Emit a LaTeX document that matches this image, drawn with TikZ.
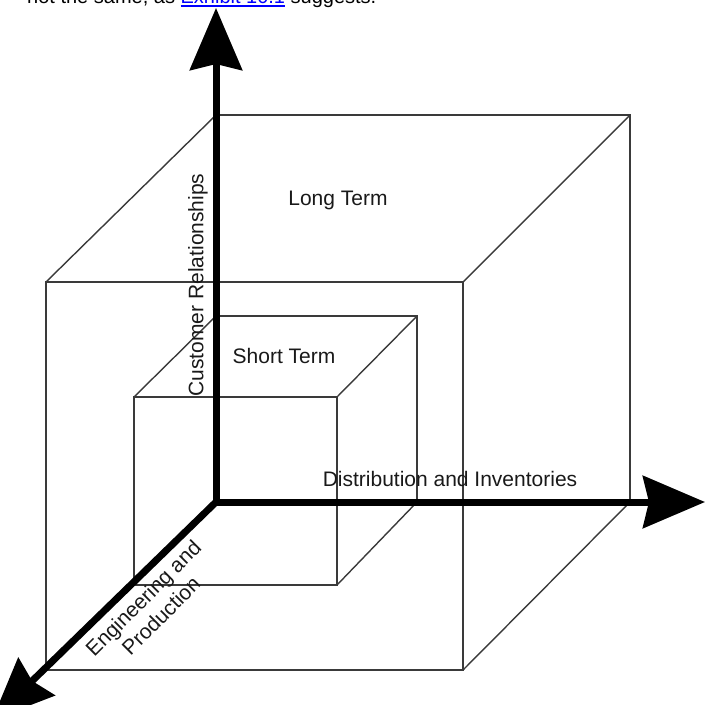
\documentclass[tikz,border=0pt]{standalone}
\usepackage{fontspec}
\setmainfont{Liberation Sans}
\usetikzlibrary{arrows.meta}
\definecolor{edgegray}{HTML}{3A3A3A}
\definecolor{linkblue}{HTML}{0000FF}
\newcommand\linkul[1]{\leavevmode\setbox0\hbox{#1}\textcolor{linkblue}{\rlap{\rule[-3.2pt]{\wd0}{2pt}}\box0}}
\begin{document}
\begin{tikzpicture}[x=1pt,y=-1pt,
  edge/.style={draw=edgegray,line width=1.4pt},
  axis/.style={line width=7pt,draw=black},
  bigtip/.style={-{Stealth[length=62pt,width=52pt,inset=6pt]}},
  lab/.style={font=\fontsize{21pt}{25pt}\selectfont,inner sep=0pt,text=black!90}]
\useasboundingbox (0,0) rectangle (706,704);
\clip (0,0) rectangle (706,704);
% top text line (cut off by the picture edge)
\node[anchor=base west,inner sep=0pt,font=\fontsize{20pt}{24pt}\selectfont] (toptext) at (27,3.8)
  {not the same, as \linkul{Exhibit 10.1} suggests.};
% coordinates
\coordinate (O) at (216,502);
\coordinate (B1) at (216,115);
\coordinate (B2) at (630,115);
\coordinate (B3) at (630,502);
\coordinate (F1) at (46,282);
\coordinate (F2) at (463,282);
\coordinate (F3) at (463,670);
\coordinate (F4) at (46,670);
\coordinate (b1) at (216,316);
\coordinate (b2) at (417,316);
\coordinate (b3) at (417,502);
\coordinate (f1) at (134,397);
\coordinate (f2) at (337,397);
\coordinate (f3) at (337,585);
\coordinate (f4) at (134,585);
\coordinate (ytip) at (216,8);
\coordinate (xtip) at (705,502);
\coordinate (ztip) at (-8,720);
% large cube
\draw[edge] (F1) -- (F2) -- (F3) -- (F4) -- cycle;
\draw[edge] (B1) -- (B2) -- (B3);
\draw[edge] (F1) -- (B1);
\draw[edge] (F2) -- (B2);
\draw[edge] (F3) -- (B3);
% small cube
\draw[edge] (f1) -- (f2) -- (f3) -- (f4) -- cycle;
\draw[edge] (b1) -- (b2) -- (b3);
\draw[edge] (f1) -- (b1);
\draw[edge] (f2) -- (b2);
\draw[edge] (f3) -- (b3);
% axes
\draw[axis,bigtip] (O) -- (ytip);
\draw[axis,bigtip] (O) -- (xtip);
\draw[axis,bigtip] (O) -- (ztip);
\fill (O) circle (3.5pt);
% labels
\node[lab] (lt) at (338,200) {Long Term};
\node[lab] (st) at (284,356) {Short Term};
\node[lab,rotate=90] (cr) at (198,285) {Customer Relationships};
\node[lab] (di) at (450,479) {Distribution and Inventories};
\node[lab,rotate=45,align=center] (ep) at (152,607) {Engineering and\\Production};
\end{tikzpicture}
\end{document}
